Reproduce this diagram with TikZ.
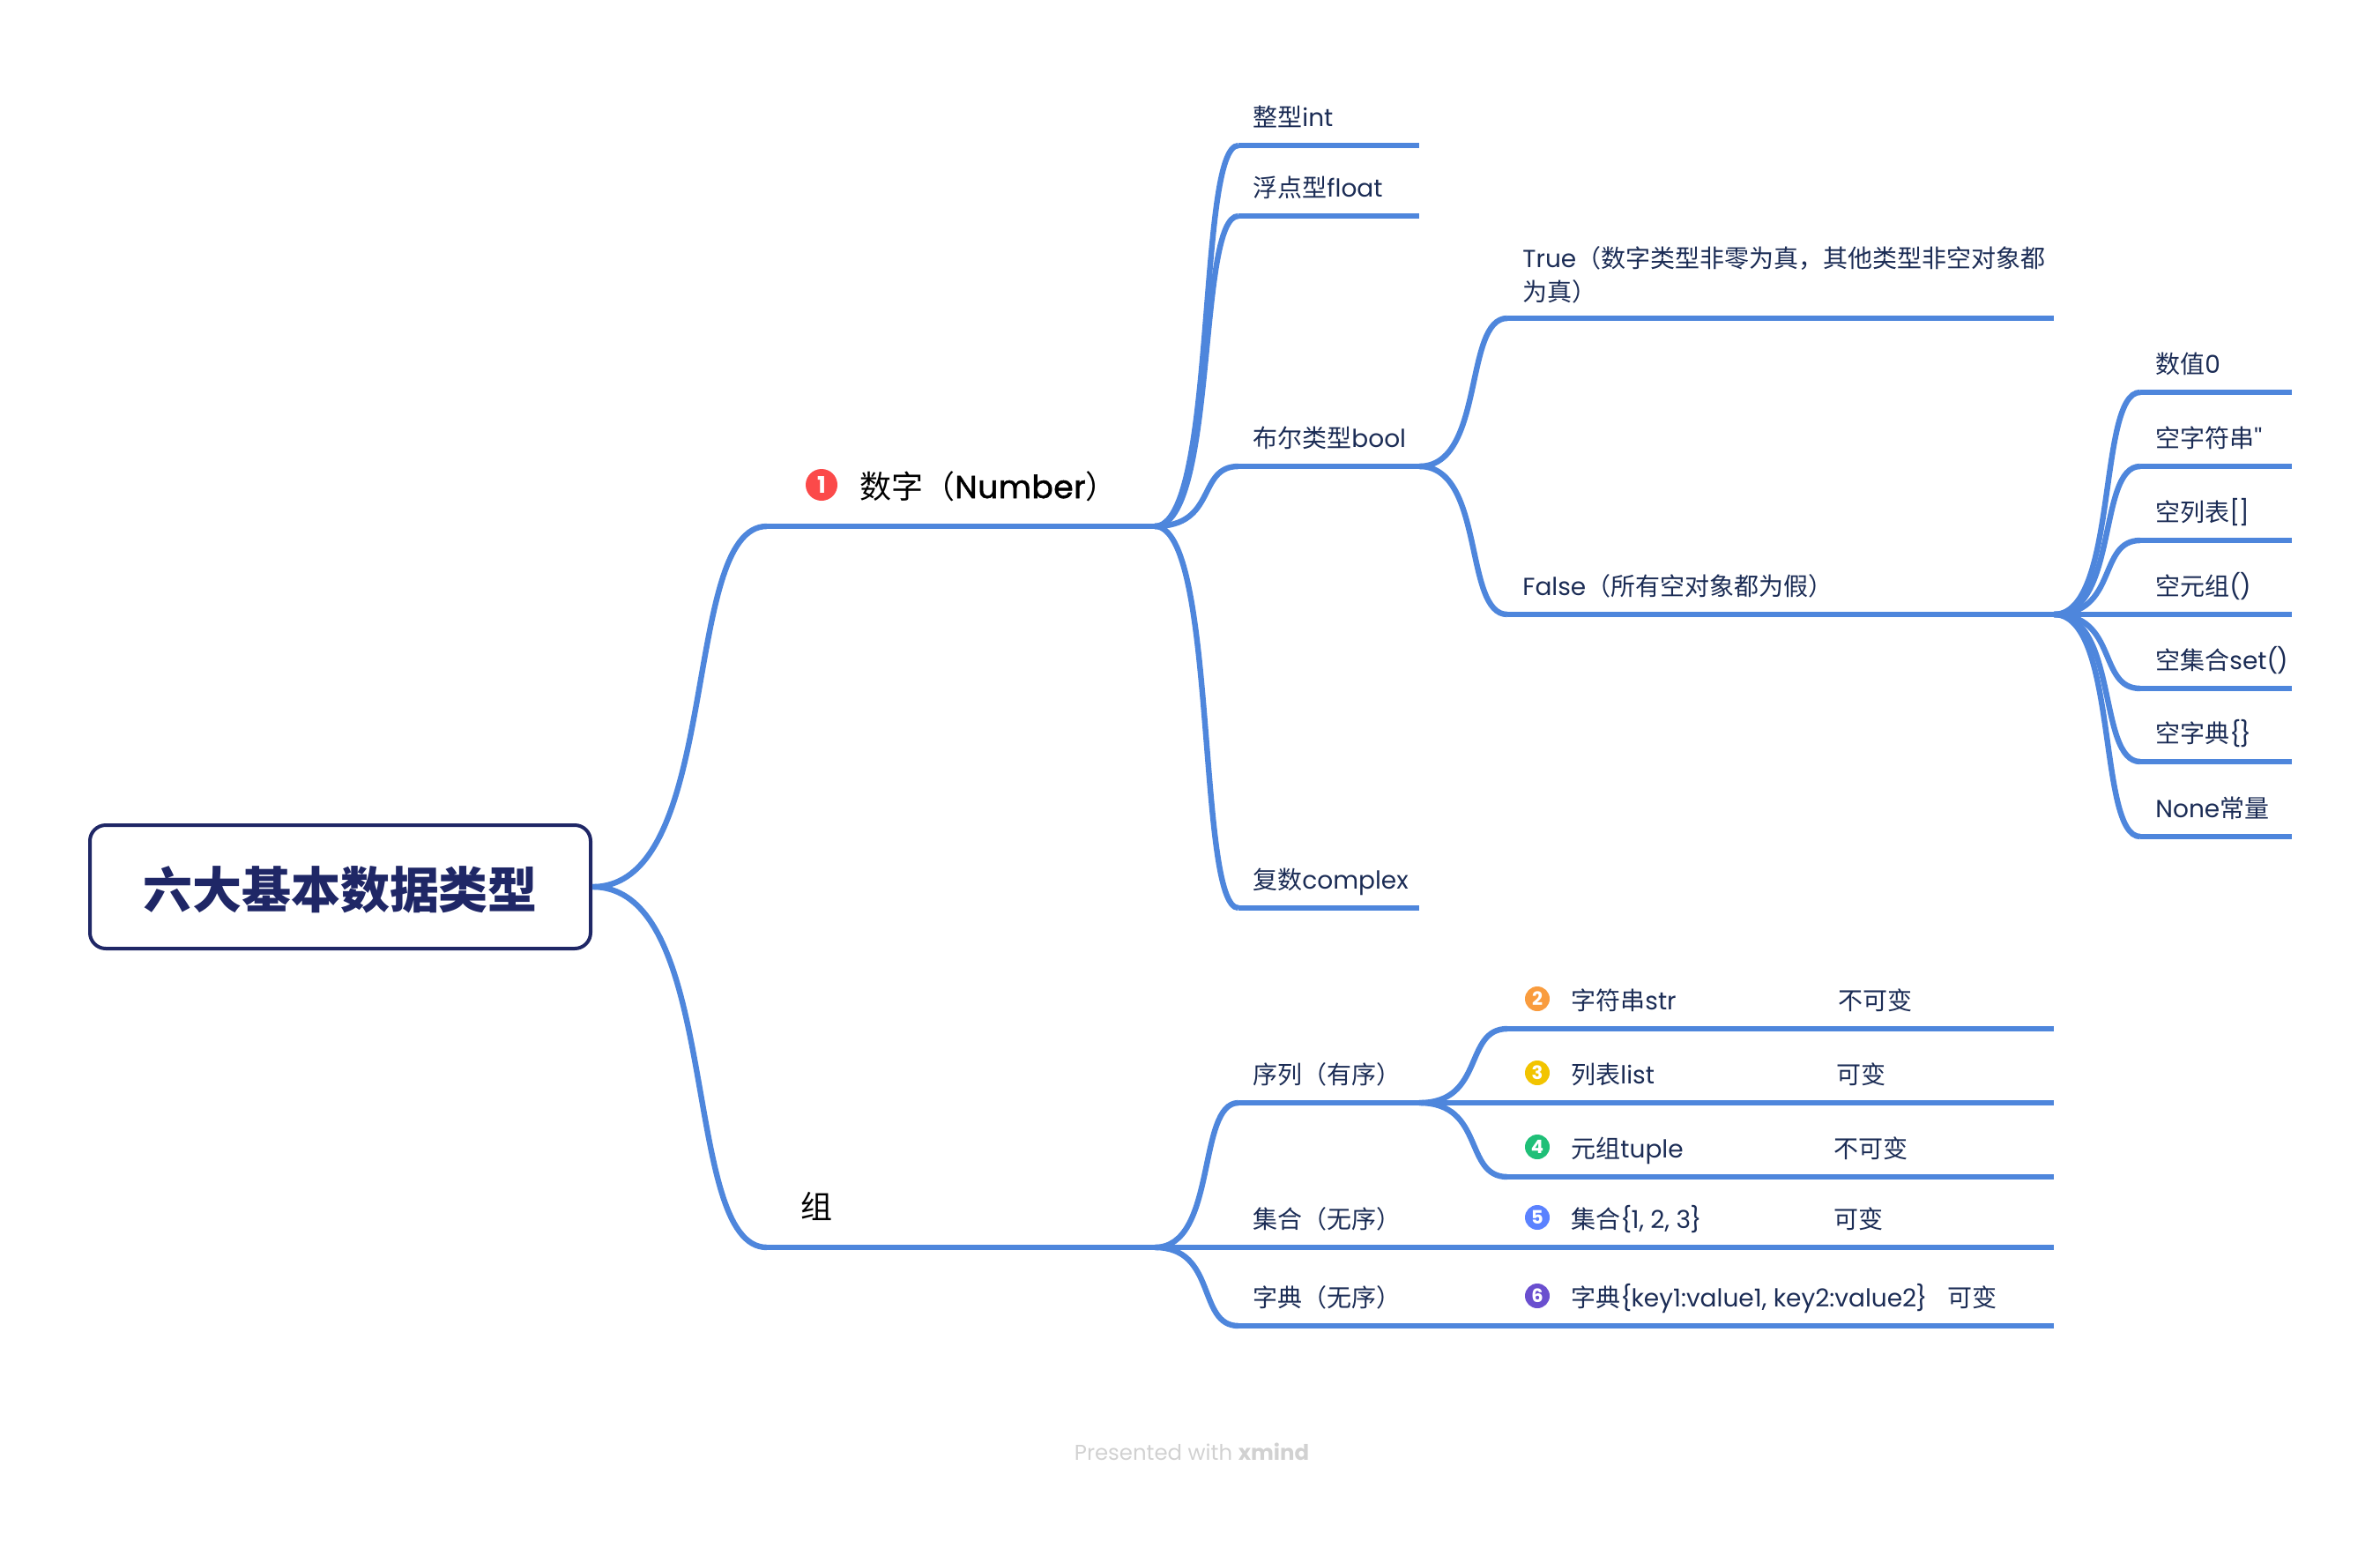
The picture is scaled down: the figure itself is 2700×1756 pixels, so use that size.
\documentclass[tikz,border=0pt]{standalone}
\usepackage{fontspec}
\newfontfamily\lat{Poppins}
\newfontfamily\latm{Poppins}[FakeBold=1.5,LetterSpace=1.5]
\newfontfamily\zh{Noto Sans CJK SC}
\usetikzlibrary{calc}
\definecolor{linkblue}{HTML}{4E86DC}
\definecolor{rootnavy}{HTML}{1F2766}
\definecolor{subnavy}{HTML}{1B2C55}
\definecolor{bred}{HTML}{FB4A4A}
\definecolor{borange}{HTML}{F99C3E}
\definecolor{byellow}{HTML}{F2C400}
\definecolor{bgreen}{HTML}{1FBF77}
\definecolor{bblue}{HTML}{5B82FF}
\definecolor{bpurple}{HTML}{6A4FCF}
\tikzset{
  link/.style={draw=linkblue,line width=3.2pt,line cap=butt},
  rootbox/.style={draw=rootnavy,line width=2pt,rounded corners=9pt,minimum width=284pt,minimum height=70pt,inner sep=0pt,fill=white,text=rootnavy},
  topictext/.style={anchor=base west,inner sep=0pt,yshift=-1pt,text=subnavy,font=\lat\fontsize{14}{19}\selectfont},
  maintext/.style={anchor=base west,inner sep=0pt,text=black,font=\lat\fontsize{18}{22}\selectfont},
  badgebig/.style={circle,inner sep=0pt,minimum size=18pt,text=white,font=\lat\bfseries\fontsize{13}{13}\selectfont},
  badge/.style={circle,inner sep=0pt,minimum size=14pt,text=white,font=\lat\bfseries\fontsize{10.5}{10.5}\selectfont},
}
\newcommand{\conn}[2]{%
  \coordinate (cA) at ($(#1)!.75!(#2)$);
  \coordinate (cB) at ($(#1)!.5!(#2)$);
  \draw[link] (#1) .. controls (cA |- #1) and (cB |- #2) .. (#2);}
\begin{document}
\begin{tikzpicture}[x=.5pt,y=-.5pt]
\useasboundingbox (0,0) rectangle (2700,1756);
% coordinates
\coordinate (numS) at (870,597);   \coordinate (numE) at (1310,597);
\coordinate (grpS) at (870,1415);  \coordinate (grpE) at (1310,1415);
\coordinate (intS) at (1405,165);  \coordinate (intE) at (1610,165);
\coordinate (fltS) at (1405,245);  \coordinate (fltE) at (1610,245);
\coordinate (boolS) at (1405,529); \coordinate (boolE) at (1610,529);
\coordinate (cpxS) at (1405,1030); \coordinate (cpxE) at (1610,1030);
\coordinate (trueS) at (1710,361); \coordinate (trueE) at (2330,361);
\coordinate (falseS) at (1710,697);\coordinate (falseE) at (2330,697);
\coordinate (z1S) at (2428,445); \coordinate (z1E) at (2600,445);
\coordinate (z2S) at (2428,529); \coordinate (z2E) at (2600,529);
\coordinate (z3S) at (2428,613); \coordinate (z3E) at (2600,613);
\coordinate (z5S) at (2428,781); \coordinate (z5E) at (2600,781);
\coordinate (z6S) at (2428,864); \coordinate (z6E) at (2600,864);
\coordinate (z7S) at (2428,949); \coordinate (z7E) at (2600,949);
\coordinate (z4E) at (2600,697);
\coordinate (seqS) at (1405,1251); \coordinate (seqE) at (1610,1251);
\coordinate (setE) at (2330,1415);
\coordinate (dicS) at (1405,1504); \coordinate (dicE) at (2330,1504);
\coordinate (strS) at (1710,1167); \coordinate (strE) at (2330,1167);
\coordinate (lstE) at (2330,1251);
\coordinate (tupS) at (1710,1335); \coordinate (tupE) at (2330,1335);
% root
\node[rootbox] (root) at (386,1006) {\raisebox{-1.8pt}[\height][\depth]{\zh\bfseries\fontsize{28}{30}\selectfont 六大基本数据类型}};
% connectors
\conn{root.east}{numS} \draw[link] (numS) -- (numE);
\conn{root.east}{grpS} \draw[link] (grpS) -- (grpE);
\conn{numE}{intS} \draw[link] (intS) -- (intE);
\conn{numE}{fltS} \draw[link] (fltS) -- (fltE);
\conn{numE}{boolS} \draw[link] (boolS) -- (boolE);
\conn{numE}{cpxS} \draw[link] (cpxS) -- (cpxE);
\conn{boolE}{trueS} \draw[link] (trueS) -- (trueE);
\conn{boolE}{falseS} \draw[link] (falseS) -- (falseE);
\conn{falseE}{z1S} \draw[link] (z1S) -- (z1E);
\conn{falseE}{z2S} \draw[link] (z2S) -- (z2E);
\conn{falseE}{z3S} \draw[link] (z3S) -- (z3E);
\draw[link] (falseE) -- (z4E);
\conn{falseE}{z5S} \draw[link] (z5S) -- (z5E);
\conn{falseE}{z6S} \draw[link] (z6S) -- (z6E);
\conn{falseE}{z7S} \draw[link] (z7S) -- (z7E);
\conn{grpE}{seqS} \draw[link] (seqS) -- (seqE);
\draw[link] (grpE) -- (setE);
\conn{grpE}{dicS} \draw[link] (dicS) -- (dicE);
\conn{seqE}{strS} \draw[link] (strS) -- (strE);
\draw[link] (seqE) -- (lstE);
\conn{seqE}{tupS} \draw[link] (tupS) -- (tupE);
% main branches
\node[badgebig,fill=bred] (b1) at (932,550) {1};
\node[maintext] (tnum) at (975,565) {\zh 数字（\latm Number\zh）};
\node[maintext] (tgrp) at (908,1382) {\zh 组};
% level 2
\node[topictext] (tint) at (1421,141) {\zh 整型\lat int};
\node[topictext] (tflt) at (1421,221) {\zh 浮点型\lat float};
\node[topictext] (tbool) at (1421,505) {\zh 布尔类型\lat bool};
\node[topictext] (tcpx) at (1421,1006) {\zh 复数\lat complex};
\node[topictext] (tseq) at (1421,1227) {\zh 序列（有序）};
\node[topictext] (tset) at (1421,1391) {\zh 集合（无序）};
\node[topictext] (tdic) at (1421,1480) {\zh 字典（无序）};
% level 3
\node[topictext,align=left,anchor=south west] (ttrue) at (1727,343) {\lat True\zh（数字类型非零为真，其他类型非空对象都\\\zh 为真）};
\node[topictext] (tfalse) at (1727,673) {\lat False\zh（所有空对象都为假）};
% level 4
\node[topictext] (z1) at (2445,421) {\zh 数值\lat 0};
\node[topictext] (z2) at (2445,505) {\zh 空字符串\lat ''};
\node[topictext] (z3) at (2445,589) {\zh 空列表\lat [\kern-.05em]};
\node[topictext] (z4) at (2445,673) {\zh 空元组\lat (\kern-.05em)};
\node[topictext] (z5) at (2445,757) {\zh 空集合\lat set(\kern-.05em)};
\node[topictext] (z6) at (2445,840) {\zh 空字典\lat \{\kern-.05em\}};
\node[topictext] (z7) at (2445,925) {\lat None\zh 常量};
% sequence rows
\node[badge,fill=borange] (b2) at (1744,1133) {2};
\node[badge,fill=byellow] (b3) at (1744,1217) {3};
\node[badge,fill=bgreen] (b4) at (1744,1301) {4};
\node[badge,fill=bblue] (b5) at (1744,1381) {5};
\node[badge,fill=bpurple] (b6) at (1744,1470) {6};
\node[topictext] (s2) at (1782,1143) {\zh 字符串\lat str};
\node[topictext] (s3) at (1782,1227) {\zh 列表\lat list};
\node[topictext] (s4) at (1782,1311) {\zh 元组\lat tuple};
\node[topictext] (s5) at (1782,1391) {\zh 集合\lat\{\kern-.03em 1, 2, 3\kern-.03em\}};
\node[topictext] (s6) at (1782,1480) {\zh 字典\lat\{\kern-.03em key1:value1, key2:value2\kern-.03em\}};
\node[topictext] (m2) at (2085,1143) {\zh 不可变};
\node[topictext] (m3) at (2083,1227) {\zh 可变};
\node[topictext] (m4) at (2080,1311) {\zh 不可变};
\node[topictext] (m5) at (2080,1391) {\zh 可变};
\node[topictext] (m6) at (2209,1480) {\zh 可变};
\node[anchor=base,inner sep=0pt,text=black!18,font=\lat\fontsize{12.2}{15}\selectfont] (wm) at (1352,1656) {Presented with \textbf{xmind}};
\end{tikzpicture}
\end{document}
